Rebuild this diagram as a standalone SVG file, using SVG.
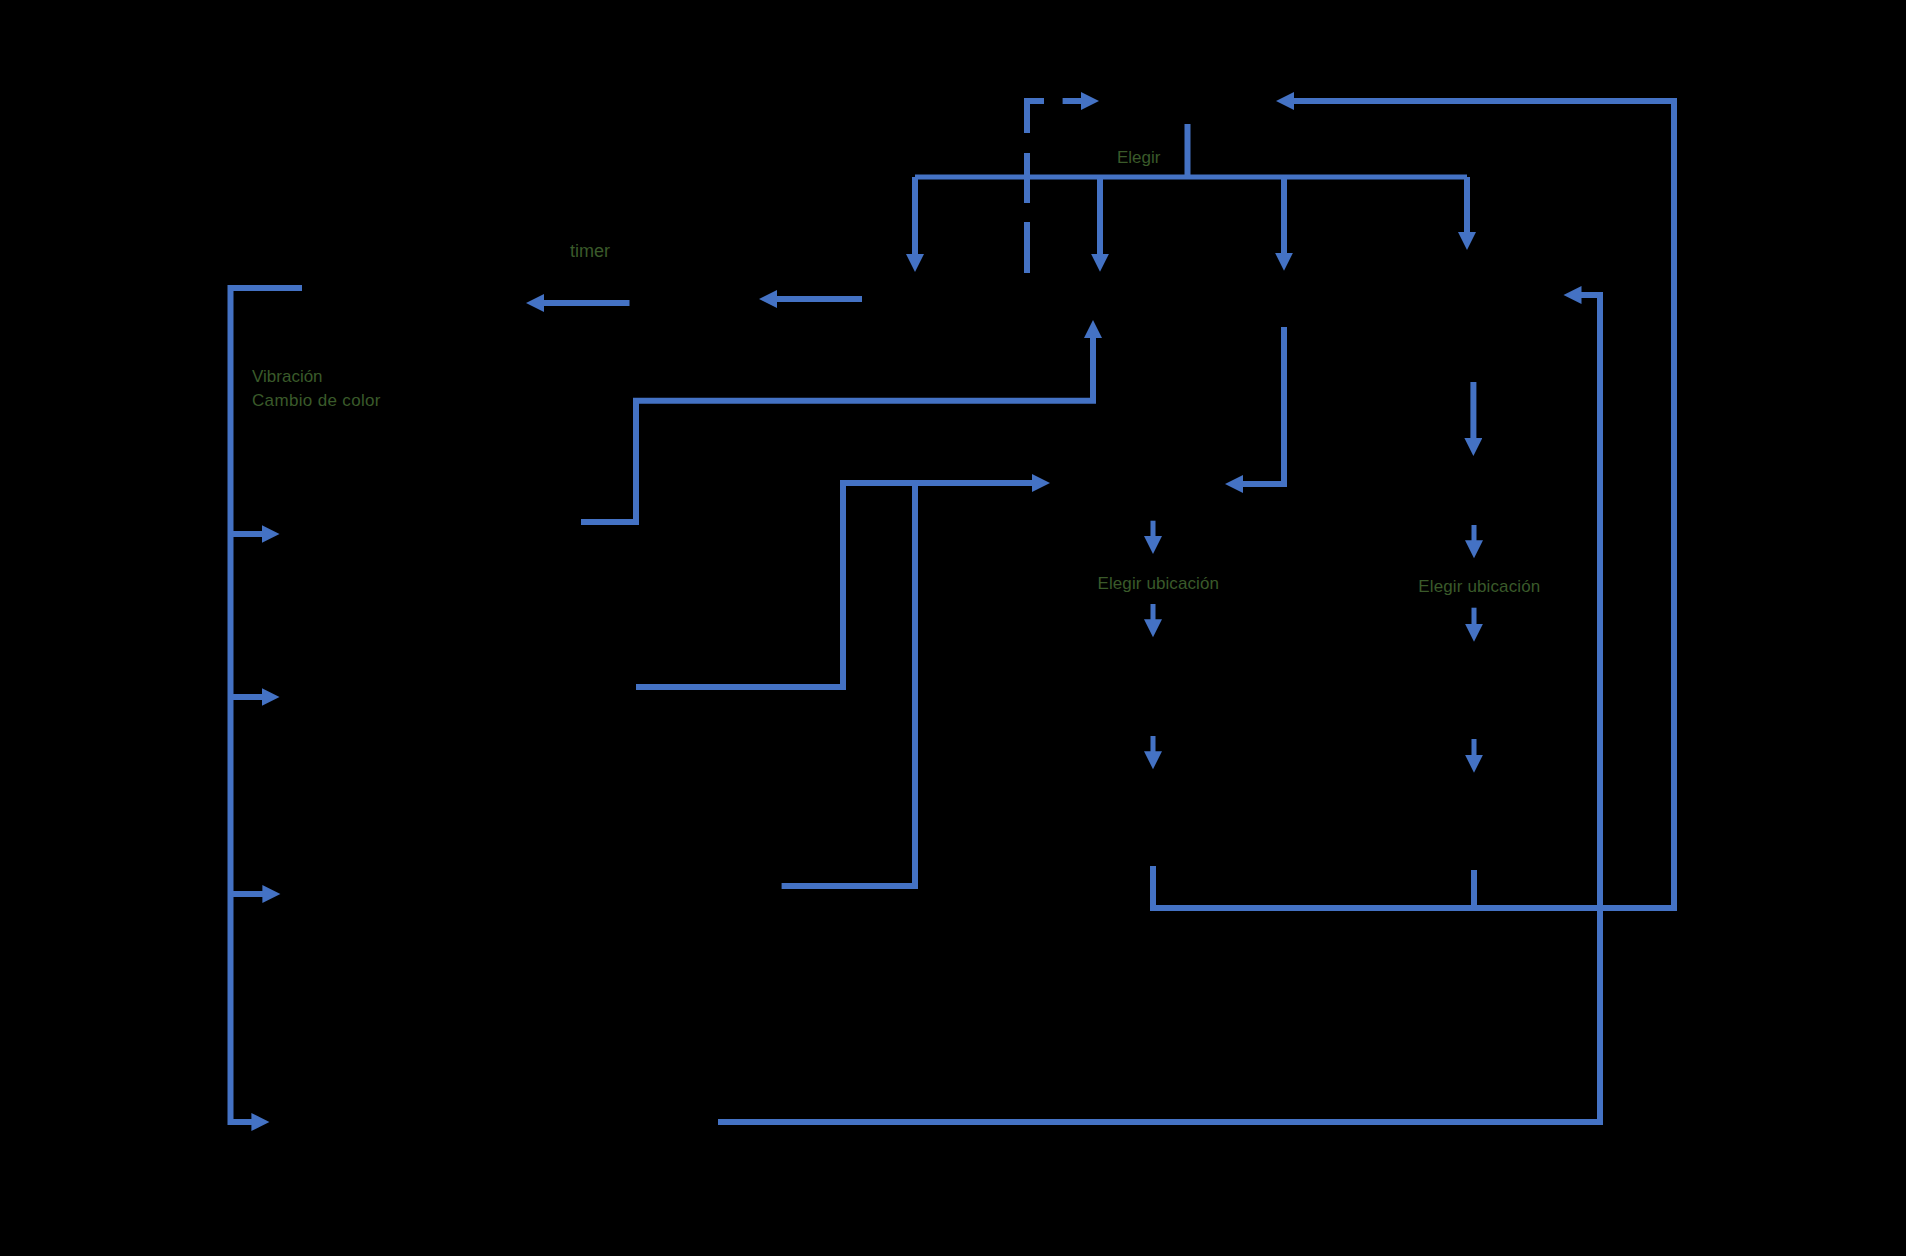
<svg xmlns="http://www.w3.org/2000/svg" width="1906" height="1256" viewBox="0 0 1906 1256">
<style>
.c{fill:none;stroke:#4472C4;stroke-width:6;stroke-linejoin:miter;stroke-linecap:butt}
.s{stroke-width:5}
.a{marker-end:url(#ah)}
.t{font-family:"Liberation Sans",Arial,sans-serif;font-size:17px;fill:#3a5a2a}
</style>
<defs>
<marker id="ah" markerUnits="userSpaceOnUse" markerWidth="20" markerHeight="20" refX="1" refY="9" orient="auto">
<path d="M0,0 L18,9 L0,18 Z" fill="#4472C4" stroke="none"/>
</marker>
</defs>
<rect x="0" y="0" width="1906" height="1256" fill="#000"/>
<g id="connectors">
<path class="c a" d="M1027,273 V101 H1082" stroke-dasharray="51 19 50 20 49 18.6 60 10"/>
<path class="c" d="M1187.5,124 V177"/>
<path class="c s" d="M915,177 H1467" stroke-linecap="square"/>
<path class="c a" d="M915,177 V255"/>
<path class="c a" d="M1100,177 V254.7"/>
<path class="c a" d="M1284,177 V253.7"/>
<path class="c a" d="M1467,177 V233"/>
<path class="c a" d="M1153,866 V908 H1674 V101 H1293"/>
<path class="c" d="M1474,870 V908"/>
<path class="c a" d="M718,1122 H1600 V295 H1580.5"/>
<path class="c a" d="M629.5,303 H543"/>
<path class="c a" d="M862,299 H776"/>
<path class="c a" d="M302,288 H230.5 V1122 H252.4"/>
<path class="c a" d="M230.5,534 H262.5"/>
<path class="c a" d="M230.5,697 H262.5"/>
<path class="c a" d="M230.5,894 H263.4"/>
<path class="c a" d="M581,522 H636 V400.7 H1093 V337"/>
<path class="c a" d="M636,687 H843 V483 H1033"/>
<path class="c" d="M781.6,886 H915 V483"/>
<path class="c a" d="M1284,327 V484 H1242"/>
<path class="c a" d="M1473.4,382 V439"/>
<path class="c s a" d="M1153,520.7 V537"/>
<path class="c s a" d="M1153,604 V620.3"/>
<path class="c s a" d="M1153,736 V752.3"/>
<path class="c s a" d="M1474,525 V541.3"/>
<path class="c s a" d="M1474,607.7 V624.7"/>
<path class="c s a" d="M1474,739 V755.7"/>
</g>
<g id="labels">
<text class="t" x="1117" y="163" textLength="43.5">Elegir</text>
<text class="t" x="570" y="257" style="font-size:18px">timer</text>
<text class="t" x="252" y="382">Vibración</text>
<text class="t" x="252" y="405.5" textLength="128.5">Cambio de color</text>
<text class="t" x="1097.5" y="588.5" textLength="121.5">Elegir ubicación</text>
<text class="t" x="1418.3" y="592" textLength="122">Elegir ubicación</text>
</g>
</svg>
